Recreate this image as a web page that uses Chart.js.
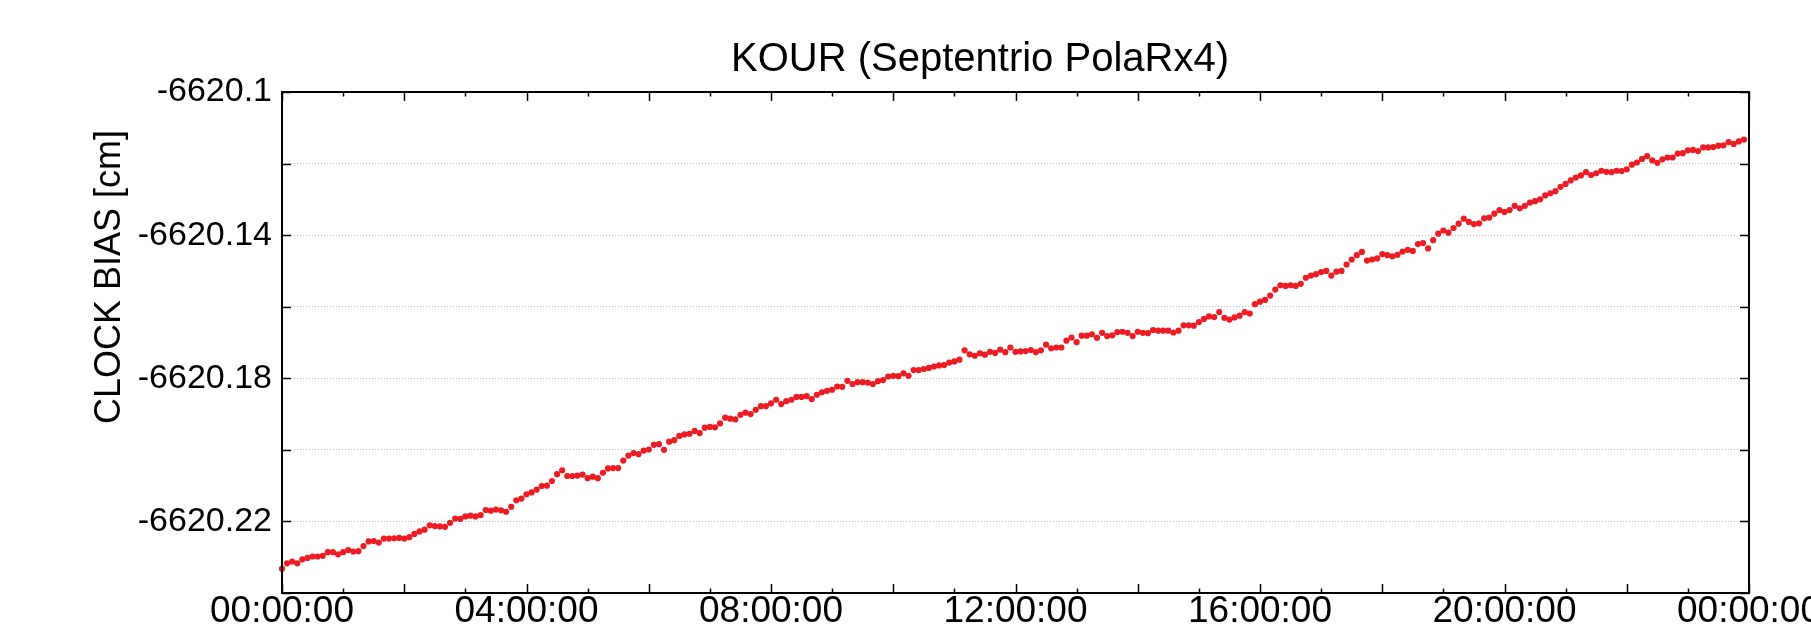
<!DOCTYPE html>
<html>
<head>
<meta charset="utf-8">
<title>KOUR clock bias</title>
<script src="https://cdn.jsdelivr.net/npm/chart.js@4.4.1/dist/chart.umd.min.js"></script>
<style>
  html, body { margin: 0; padding: 0; background: #fff; }
  #wrap { width: 1811px; height: 643px; }
</style>
</head>
<body>
<div id="wrap"><canvas id="clockChart" width="1811" height="643"></canvas></div>
<script>
const TITLE = 'KOUR (Septentrio PolaRx4)';
const Y_TITLE = 'CLOCK BIAS [cm]';
const FONT = '"Liberation Sans", Arial, Helvetica, sans-serif';

// one sample every 5 minutes, 00:00 -> 23:55
const SAMPLE_MINUTES = 5;

// x axis: labels every 4 h, small ticks every hour
const X_TICK_LABELS = ['00:00:00', '04:00:00', '08:00:00', '12:00:00', '16:00:00', '20:00:00', '00:00:00'];
const X_LABEL_STEP = 240;
const X_TICK_STEP = 60;

// y axis: grid every 0.02, label on every other line
const Y_MIN = -6620.24;
const Y_MAX = -6620.10;
const Y_STEP = 0.02;
const Y_TICK_LABELS = [-6620.1, -6620.14, -6620.18, -6620.22];

// clock bias [cm], one row per hour (12 samples)
const CLOCK_BIAS = [
  -6620.2332, -6620.2317, -6620.2312, -6620.2317, -6620.2306, -6620.2302, -6620.2298, -6620.2298, -6620.2296, -6620.2286, -6620.2286, -6620.2292,
  -6620.2286, -6620.2280, -6620.2284, -6620.2283, -6620.2269, -6620.2256, -6620.2255, -6620.2259, -6620.2248, -6620.2248, -6620.2247, -6620.2246,
  -6620.2248, -6620.2244, -6620.2235, -6620.2228, -6620.2223, -6620.2211, -6620.2213, -6620.2214, -6620.2215, -6620.2204, -6620.2192, -6620.2193,
  -6620.2186, -6620.2184, -6620.2186, -6620.2182, -6620.2168, -6620.2170, -6620.2167, -6620.2169, -6620.2173, -6620.2159, -6620.2141, -6620.2136,
  -6620.2124, -6620.2119, -6620.2111, -6620.2101, -6620.2100, -6620.2087, -6620.2068, -6620.2057, -6620.2073, -6620.2073, -6620.2072, -6620.2069,
  -6620.2079, -6620.2075, -6620.2079, -6620.2064, -6620.2052, -6620.2051, -6620.2051, -6620.2030, -6620.2016, -6620.2009, -6620.2012, -6620.2002,
  -6620.1999, -6620.1986, -6620.1984, -6620.2000, -6620.1977, -6620.1973, -6620.1961, -6620.1957, -6620.1955, -6620.1947, -6620.1953, -6620.1938,
  -6620.1936, -6620.1937, -6620.1926, -6620.1910, -6620.1913, -6620.1915, -6620.1902, -6620.1896, -6620.1900, -6620.1888, -6620.1878, -6620.1878,
  -6620.1870, -6620.1860, -6620.1872, -6620.1864, -6620.1860, -6620.1852, -6620.1852, -6620.1850, -6620.1858, -6620.1846, -6620.1839, -6620.1835,
  -6620.1832, -6620.1823, -6620.1824, -6620.1807, -6620.1816, -6620.1811, -6620.1811, -6620.1812, -6620.1816, -6620.1808, -6620.1805, -6620.1795,
  -6620.1793, -6620.1794, -6620.1786, -6620.1793, -6620.1777, -6620.1777, -6620.1774, -6620.1771, -6620.1767, -6620.1764, -6620.1763, -6620.1756,
  -6620.1753, -6620.1748, -6620.1722, -6620.1733, -6620.1737, -6620.1730, -6620.1734, -6620.1726, -6620.1729, -6620.1720, -6620.1727, -6620.1714,
  -6620.1726, -6620.1725, -6620.1724, -6620.1721, -6620.1727, -6620.1722, -6620.1706, -6620.1716, -6620.1714, -6620.1714, -6620.1695, -6620.1686,
  -6620.1699, -6620.1681, -6620.1681, -6620.1677, -6620.1687, -6620.1673, -6620.1682, -6620.1680, -6620.1671, -6620.1670, -6620.1673, -6620.1682,
  -6620.1670, -6620.1673, -6620.1674, -6620.1665, -6620.1667, -6620.1667, -6620.1667, -6620.1672, -6620.1667, -6620.1652, -6620.1652, -6620.1653,
  -6620.1643, -6620.1634, -6620.1627, -6620.1629, -6620.1615, -6620.1631, -6620.1636, -6620.1630, -6620.1625, -6620.1615, -6620.1619, -6620.1593,
  -6620.1586, -6620.1581, -6620.1569, -6620.1552, -6620.1540, -6620.1542, -6620.1540, -6620.1542, -6620.1536, -6620.1519, -6620.1513, -6620.1509,
  -6620.1503, -6620.1500, -6620.1513, -6620.1502, -6620.1500, -6620.1482, -6620.1468, -6620.1456, -6620.1447, -6620.1471, -6620.1468, -6620.1465,
  -6620.1453, -6620.1456, -6620.1459, -6620.1455, -6620.1446, -6620.1441, -6620.1444, -6620.1425, -6620.1422, -6620.1437, -6620.1414, -6620.1396,
  -6620.1387, -6620.1393, -6620.1380, -6620.1368, -6620.1354, -6620.1363, -6620.1369, -6620.1367, -6620.1353, -6620.1351, -6620.1340, -6620.1330,
  -6620.1335, -6620.1330, -6620.1318, -6620.1325, -6620.1318, -6620.1309, -6620.1305, -6620.1300, -6620.1289, -6620.1283, -6620.1277, -6620.1265,
  -6620.1257, -6620.1247, -6620.1239, -6620.1233, -6620.1224, -6620.1232, -6620.1227, -6620.1220, -6620.1223, -6620.1224, -6620.1220, -6620.1221,
  -6620.1216, -6620.1203, -6620.1197, -6620.1187, -6620.1179, -6620.1191, -6620.1198, -6620.1188, -6620.1183, -6620.1183, -6620.1172, -6620.1171,
  -6620.1163, -6620.1162, -6620.1165, -6620.1155, -6620.1155, -6620.1154, -6620.1150, -6620.1149, -6620.1140, -6620.1145, -6620.1138, -6620.1133
];

const ctx = document.getElementById('clockChart').getContext('2d');

// gnuplot-like frame: box round the plot, ticks pointing inwards on all sides
const framePlugin = {
  id: 'frame',
  afterDatasetsDraw(chart) {
    const { ctx, chartArea: a, scales: { x, y } } = chart;
    ctx.save();
    ctx.strokeStyle = '#000';
    ctx.lineWidth = 1.5;
    ctx.beginPath();
    for (let m = x.min; m <= x.max; m += X_TICK_STEP) {
      const px = Math.round(x.getPixelForValue(m)) + 0.5;
      const len = (m % (2 * X_TICK_STEP) === 0) ? 9 : 4.5;
      ctx.moveTo(px, a.bottom);
      ctx.lineTo(px, a.bottom - len);
      ctx.moveTo(px, a.top);
      ctx.lineTo(px, a.top + len);
    }
    y.ticks.forEach(t => {
      const py = Math.round(y.getPixelForValue(t.value)) + 0.5;
      ctx.moveTo(a.left, py);
      ctx.lineTo(a.left + 9, py);
      ctx.moveTo(a.right, py);
      ctx.lineTo(a.right - 9, py);
    });
    ctx.stroke();
    ctx.lineWidth = 2;
    ctx.strokeRect(a.left, a.top, a.right - a.left, a.bottom - a.top);
    ctx.restore();
  },
  afterDraw(chart) {
    const { ctx } = chart;
    ctx.save();
    ctx.fillStyle = '#000';
    ctx.font = '40px ' + FONT;
    ctx.textAlign = 'center';
    ctx.textBaseline = 'alphabetic';
    ctx.fillText(TITLE, 980, 71);

    ctx.font = '36px ' + FONT;
    ctx.translate(110, 277);
    ctx.rotate(-Math.PI / 2);
    ctx.textBaseline = 'middle';
    ctx.fillText(Y_TITLE, 0, 0);
    ctx.restore();
  }
};

new Chart(ctx, {
  type: 'scatter',
  data: {
    datasets: [{
      label: 'Clock bias',
      data: CLOCK_BIAS.map((v, i) => ({ x: i * SAMPLE_MINUTES, y: v })),
      pointRadius: 3.1,
      pointBorderWidth: 0,
      pointBackgroundColor: '#ec1c24',
      pointBorderColor: '#ec1c24',
      showLine: false,
      clip: false
    }]
  },
  options: {
    responsive: false,
    animation: false,
    devicePixelRatio: 1,
    layout: { padding: { top: 92, right: 62, left: 0, bottom: 0 } },
    plugins: {
      legend: { display: false },
      title: { display: false },
      tooltip: { enabled: false }
    },
    scales: {
      x: {
        type: 'linear',
        min: 0,
        max: 1440,
        grid: { display: false, drawTicks: false },
        border: { display: false },
        ticks: {
          stepSize: X_LABEL_STEP,
          autoSkip: false,
          maxRotation: 0,
          padding: 0,
          color: '#000',
          font: { family: FONT, size: 37, lineHeight: 1 },
          callback: (v, i) => X_TICK_LABELS[i]
        },
        afterFit: (scale) => {
          scale.height = 50;
          scale.paddingLeft = 0;
          scale.paddingRight = 0;
        }
      },
      y: {
        min: Y_MIN,
        max: Y_MAX,
        grid: { color: '#bdbdbd', lineWidth: 1, drawTicks: false },
        border: { display: false, dash: [1, 2] },
        ticks: {
          stepSize: Y_STEP,
          autoSkip: false,
          padding: 10,
          color: '#000',
          font: { family: FONT, size: 34 },
          callback: (v) => {
            const hit = Y_TICK_LABELS.find(t => Math.abs(t - v) < 1e-6);
            return hit === undefined ? '' : String(hit);
          }
        },
        afterFit: (scale) => {
          scale.width = 282;
        }
      }
    }
  },
  plugins: [framePlugin]
});
</script>
</body>
</html>
